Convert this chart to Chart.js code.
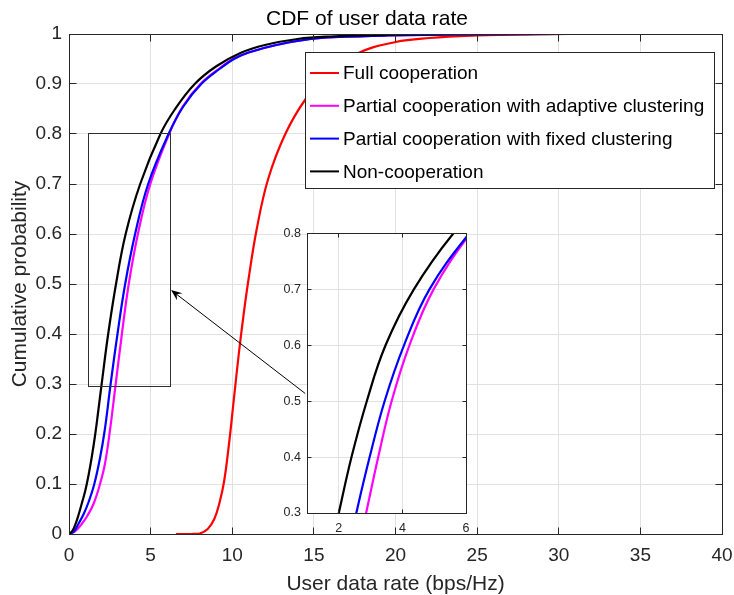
<!DOCTYPE html>
<html>
<head>
<meta charset="utf-8">
<title>CDF of user data rate</title>
<script src="https://cdn.jsdelivr.net/npm/chart.js@4/dist/chart.umd.min.js"></script>
<style>
  html, body { margin: 0; padding: 0; background: #ffffff; }
  #wrap { position: relative; width: 734px; height: 595px; }
  #main { position: absolute; left: 0; top: 0; }
  #zoom { position: absolute; left: 270px; top: 220px; }
</style>
</head>
<body>
<div id="wrap">
  <canvas id="main" width="734" height="595"></canvas>
  <canvas id="zoom" width="200" height="320"></canvas>
</div>
<script>
// ---- data: empirical CDF samples (rate in bps/Hz, cumulative probability) ----
const seriesNames = [
  'Full cooperation',
  'Partial cooperation with adaptive clustering',
  'Partial cooperation with fixed clustering',
  'Non-cooperation'
];
const seriesColors = ['#ff0000', '#ff00ff', '#0000ff', '#000000'];

const fullRate = [6.55, 7.5, 8.0, 8.5, 8.9, 9.2, 9.5, 9.8, 10.1, 10.4, 10.7, 11.0, 11.5, 12.2, 13.25, 14.5, 15.8, 17.6, 20.0, 22.1, 25.0, 28.0, 31.0, 37.1];
const fullCdf  = [0, 0, 0.001, 0.01, 0.03, 0.06, 0.105, 0.18, 0.27, 0.36, 0.44, 0.51, 0.61, 0.71, 0.8, 0.87, 0.917, 0.96, 0.984, 0.992, 0.997, 0.9993, 1, 1];

const adaptiveRate = [0, 0.4, 0.8, 1.1, 1.5, 1.9, 2.2, 2.5, 2.86, 3.24, 3.66, 4.22, 4.98, 6.13, 6.97, 8.05, 9.25, 10.05, 11.0, 12.7, 14.8, 16.5, 19.5, 24.0, 30.5];
const adaptiveCdf  = [0, 0.006, 0.021, 0.035, 0.06, 0.1, 0.14, 0.205, 0.3, 0.4, 0.5, 0.6, 0.7, 0.8, 0.855, 0.9, 0.932, 0.95, 0.963, 0.978, 0.99, 0.994, 0.997, 0.9992, 1];

const fixedRate = [0, 0.3, 0.59, 0.9, 1.2, 1.55, 1.9, 2.2, 2.55, 2.97, 3.44, 4.05, 4.85, 6.1, 7.0, 8.1, 9.3, 10.1, 11.0, 12.7, 14.8, 16.5, 19.5, 24.0, 30.5];
const fixedCdf  = [0, 0.005, 0.021, 0.04, 0.064, 0.1, 0.152, 0.21, 0.3, 0.4, 0.5, 0.6, 0.7, 0.8, 0.855, 0.9, 0.932, 0.95, 0.963, 0.978, 0.99, 0.994, 0.997, 0.9992, 1];

const nonRate = [0, 0.2, 0.4, 0.6, 0.8, 1.0, 1.2, 1.4, 1.6, 1.8, 2.0, 2.4, 2.88, 3.47, 4.36, 5.6, 6.5, 7.7, 9.0, 10.5, 12.0, 14.0, 16.0, 19.0, 23.0, 30.1];
const nonCdf  = [0, 0.006, 0.02, 0.04, 0.063, 0.087, 0.118, 0.155, 0.198, 0.248, 0.3, 0.4, 0.5, 0.6, 0.7, 0.8, 0.85, 0.9, 0.935, 0.962, 0.978, 0.99, 0.995, 0.998, 0.9995, 1];

const xTicks = [0, 5, 10, 15, 20, 25, 30, 35, 40];
const yTicks = [0, 0.1, 0.2, 0.3, 0.4, 0.5, 0.6, 0.7, 0.8, 0.9, 1];
const zoomXTicks = [2, 4, 6];
const zoomYTicks = [0.3, 0.4, 0.5, 0.6, 0.7, 0.8];

// ---- styling ----
const FONT = "'Liberation Sans', Arial, Helvetica, sans-serif";
const INK = '#262626';
const GRID = '#e1e1e1';

const seriesRates = [fullRate, adaptiveRate, fixedRate, nonRate];
const seriesCdfs = [fullCdf, adaptiveCdf, fixedCdf, nonCdf];

function makeDatasets() {
  return seriesNames.map((name, i) => ({
    label: name,
    data: seriesRates[i].map((x, k) => ({ x: x, y: seriesCdfs[i][k] })),
    borderColor: seriesColors[i],
    backgroundColor: seriesColors[i],
    borderWidth: 2.2,
    pointRadius: 0,
    fill: false,
    tension: 0.4,
    order: seriesNames.length - i   // non-cooperation drawn on top
  }));
}

function crisp(p) { return Math.round(p - 0.5) + 0.5; }

function drawFrame(chart, tickLen) {
  const ctx = chart.ctx;
  const a = chart.chartArea;
  const xs = chart.scales.x, ys = chart.scales.y;
  const L = crisp(a.left), R = crisp(a.right), T = crisp(a.top), B = crisp(a.bottom);
  ctx.save();
  ctx.strokeStyle = INK;
  ctx.lineWidth = 1;
  ctx.beginPath();
  xs.ticks.forEach(t => {
    const px = crisp(xs.getPixelForValue(t.value));
    ctx.moveTo(px, B); ctx.lineTo(px, B - tickLen);
    ctx.moveTo(px, T); ctx.lineTo(px, T + tickLen);
  });
  ys.ticks.forEach(t => {
    const py = crisp(ys.getPixelForValue(t.value));
    ctx.moveTo(L, py); ctx.lineTo(L + tickLen, py);
    ctx.moveTo(R, py); ctx.lineTo(R - tickLen, py);
  });
  ctx.stroke();
  ctx.strokeRect(L, T, R - L, B - T);
  ctx.restore();
}

// zoom window marker, pointer arrow, axes box and legend of the main plot
const zoomWindow = { x0: 1.2, x1: 6.2, y0: 0.295, y1: 0.8 };
const pointerFrom = { x: 14.47, y: 0.281 };
const pointerTo = { x: 6.25, y: 0.488 };

const mainDecor = {
  id: 'mainDecor',
  afterDatasetsDraw(chart) {
    const ctx = chart.ctx;
    const xs = chart.scales.x, ys = chart.scales.y;

    // rectangle marking the magnified region
    ctx.save();
    ctx.strokeStyle = '#303030';
    ctx.lineWidth = 1;
    const rx0 = crisp(xs.getPixelForValue(zoomWindow.x0));
    const rx1 = crisp(xs.getPixelForValue(zoomWindow.x1));
    const ry0 = crisp(ys.getPixelForValue(zoomWindow.y1));
    const ry1 = crisp(ys.getPixelForValue(zoomWindow.y0));
    ctx.strokeRect(rx0, ry0, rx1 - rx0, ry1 - ry0);

    // arrow
    const ax0 = xs.getPixelForValue(pointerFrom.x), ay0 = ys.getPixelForValue(pointerFrom.y);
    const ax1 = xs.getPixelForValue(pointerTo.x), ay1 = ys.getPixelForValue(pointerTo.y);
    const dx = ax1 - ax0, dy = ay1 - ay0, len = Math.hypot(dx, dy);
    const ux = dx / len, uy = dy / len, nx = -uy, ny = ux;
    const hl = 11, hw = 4.5;
    ctx.strokeStyle = '#000000';
    ctx.beginPath();
    ctx.moveTo(ax0, ay0);
    ctx.lineTo(ax1 - ux * hl * 0.6, ay1 - uy * hl * 0.6);
    ctx.stroke();
    ctx.fillStyle = '#000000';
    ctx.beginPath();
    ctx.moveTo(ax1, ay1);
    ctx.lineTo(ax1 - ux * hl + nx * hw, ay1 - uy * hl + ny * hw);
    ctx.lineTo(ax1 - ux * hl * 0.65, ay1 - uy * hl * 0.65);
    ctx.lineTo(ax1 - ux * hl - nx * hw, ay1 - uy * hl - ny * hw);
    ctx.closePath();
    ctx.fill();
    ctx.restore();

    drawFrame(chart, 7);

    // legend box
    const box = { left: 305.5, top: 52.5, right: 714.5, bottom: 188.5 };
    ctx.save();
    ctx.fillStyle = '#ffffff';
    ctx.fillRect(box.left, box.top, box.right - box.left, box.bottom - box.top);
    ctx.strokeStyle = INK;
    ctx.lineWidth = 1;
    ctx.strokeRect(box.left, box.top, box.right - box.left, box.bottom - box.top);
    ctx.font = '19px ' + FONT;
    ctx.textBaseline = 'middle';
    ctx.textAlign = 'left';
    chart.data.datasets.forEach((ds, i) => {
      const y = box.top + 20.5 + i * 32.8;
      ctx.strokeStyle = ds.borderColor;
      ctx.lineWidth = 2;
      ctx.beginPath();
      ctx.moveTo(310, y);
      ctx.lineTo(339, y);
      ctx.stroke();
      ctx.fillStyle = '#000000';
      ctx.fillText(ds.label, 343, y + 1);
    });
    ctx.restore();
  }
};

const mainChart = new Chart(document.getElementById('main'), {
  type: 'line',
  data: { datasets: makeDatasets() },
  plugins: [mainDecor],
  options: {
    responsive: false,
    animation: false,
    devicePixelRatio: 1,
    layout: { padding: 0 },
    plugins: {
      legend: { display: false },
      tooltip: { enabled: false },
      title: {
        display: true,
        text: 'CDF of user data rate',
        color: '#000000',
        font: { family: FONT, size: 21, weight: 'normal' },
        padding: { top: 7, bottom: 1.8 }
      }
    },
    scales: {
      x: {
        type: 'linear',
        min: 0, max: 40,
        afterBuildTicks: s => { s.ticks = xTicks.map(v => ({ value: v })); },
        afterFit: s => { s.height = 61; s.paddingRight = 12; s.paddingLeft = 0; },
        grid: { color: GRID, lineWidth: 1, drawTicks: false },
        border: { display: false },
        ticks: {
          padding: 10, color: INK, autoSkip: false, maxRotation: 0,
          font: { family: FONT, size: 19 },
          callback: v => String(v)
        },
        title: {
          display: true, text: 'User data rate (bps/Hz)', color: INK,
          font: { family: FONT, size: 21 }, padding: { top: 0, bottom: -2 }
        }
      },
      y: {
        type: 'linear',
        min: 0, max: 1,
        afterBuildTicks: s => { s.ticks = yTicks.map(v => ({ value: v })); },
        afterFit: s => { s.width = 69; },
        grid: { color: GRID, lineWidth: 1, drawTicks: false },
        border: { display: false },
        ticks: {
          padding: 7, color: INK, autoSkip: false,
          font: { family: FONT, size: 19 },
          callback: v => String(v)
        },
        title: {
          display: true, text: 'Cumulative probability', color: INK,
          font: { family: FONT, size: 21 }, padding: { top: 8, bottom: 0 }
        }
      }
    }
  }
});

// ---- magnified view ----
const zoomDecor = {
  id: 'zoomDecor',
  beforeDraw(chart) {
    const a = chart.chartArea, ctx = chart.ctx;
    ctx.save();
    ctx.fillStyle = '#ffffff';
    ctx.fillRect(a.left, a.top, a.right - a.left, a.bottom - a.top);
    ctx.restore();
  },
  afterDatasetsDraw(chart) {
    drawFrame(chart, 4);
  }
};

const zoomChart = new Chart(document.getElementById('zoom'), {
  type: 'line',
  data: { datasets: makeDatasets() },
  plugins: [zoomDecor],
  options: {
    responsive: false,
    animation: false,
    devicePixelRatio: 1,
    layout: { padding: { left: 0, right: 0, top: 12, bottom: 0 } },
    plugins: { legend: { display: false }, tooltip: { enabled: false }, title: { display: false } },
    scales: {
      x: {
        type: 'linear',
        min: 1, max: 6,
        afterBuildTicks: s => { s.ticks = zoomXTicks.map(v => ({ value: v })); },
        afterFit: s => { s.height = 27; s.paddingRight = 4; s.paddingLeft = 0; },
        grid: { color: GRID, lineWidth: 1, drawTicks: false },
        border: { display: false },
        ticks: {
          padding: 8, color: INK, autoSkip: false, maxRotation: 0,
          font: { family: FONT, size: 12.5 },
          callback: v => String(v)
        }
      },
      y: {
        type: 'linear',
        min: 0.3, max: 0.8,
        afterBuildTicks: s => { s.ticks = zoomYTicks.map(v => ({ value: v })); },
        afterFit: s => { s.width = 37; },
        grid: { color: GRID, lineWidth: 1, drawTicks: false },
        border: { display: false },
        ticks: {
          padding: 6, color: INK, autoSkip: false,
          font: { family: FONT, size: 12.5 },
          callback: v => String(v)
        }
      }
    }
  }
});
</script>
</body>
</html>
